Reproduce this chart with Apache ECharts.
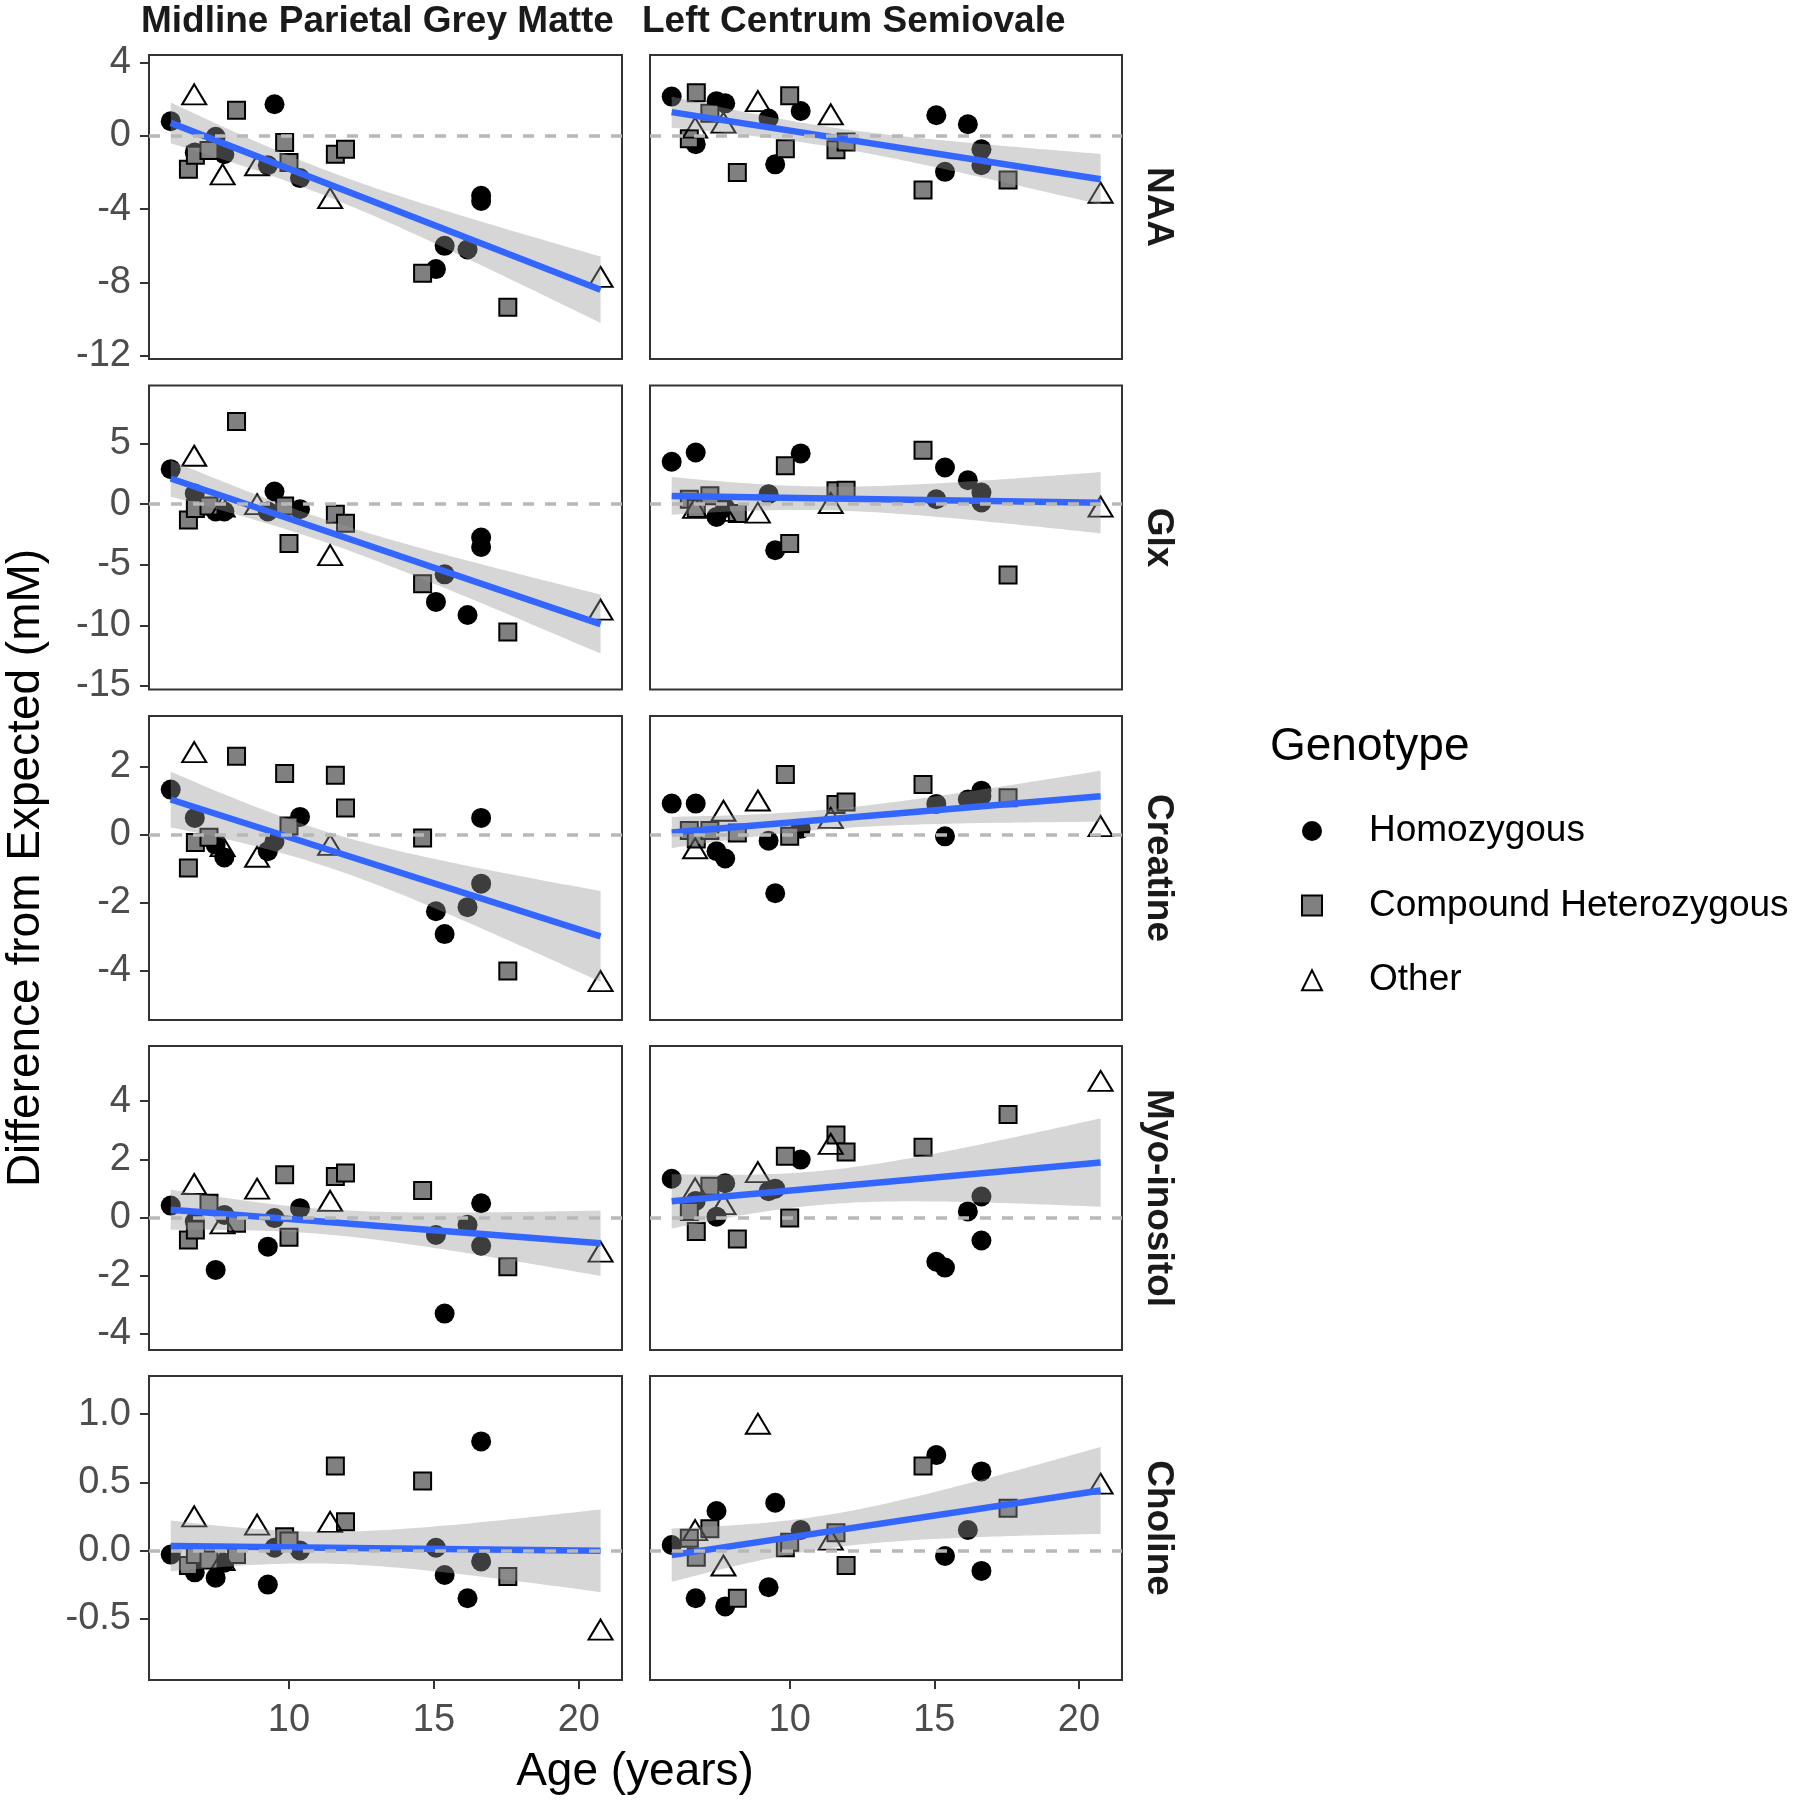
<!DOCTYPE html>
<html>
<head>
<meta charset="utf-8">
<script src="https://cdn.jsdelivr.net/npm/echarts@6/dist/echarts.min.js"></script>
<style>
  html, body { margin: 0; background: #fff; }
  #main { width: 1800px; height: 1802px; }
</style>
</head>
<body>
<div id="main"></div>
<script>
// subjects: age and genotype (same subjects in every panel)
const ages = [5.92, 6.53, 6.73, 6.75, 6.77, 7.24, 7.47, 7.71, 7.77, 8.19, 8.9, 9.27, 9.5, 9.85,
  10.0, 10.38, 11.42, 11.6, 11.95, 14.61, 15.07, 15.37, 16.16, 16.63, 16.63, 17.55, 20.75];
const genotypes = ["H", "C", "O", "H", "C", "C", "H", "O", "H", "C", "O", "H", "H", "C",
  "C", "H", "O", "C", "C", "C", "H", "H", "H", "H", "H", "C", "O"];
const genotypeNames = { H: "Homozygous", C: "Compound Heterozygous", O: "Other" };

const regions = ["Midline Parietal Grey Matter", "Left Centrum Semiovale"];
const metabolites = ["NAA", "Glx", "Creatine", "Myo-inositol", "Choline"];

// difference from expected (mM), midline parietal grey matter
const naaMpgm = [0.8, -1.82, 2.27, -0.9, -1.05, -0.8, -0.05, -2.1, -1.0, 1.4, -1.6, -1.6, 1.73, -0.36,
  -1.45, -2.3, -3.4, -1.0, -0.73, -7.5, -7.27, -6.0, -6.2, -3.27, -3.55, -9.36, -7.7];
const glxMpgm = [2.89, -1.3, 4.0, 0.88, -0.36, -0.14, -0.6, -0.2, -0.6, 6.83, 0.0, -0.6, 1.05, -0.14,
  -3.25, -0.41, -4.2, -0.83, -1.57, -6.56, -8.07, -5.79, -9.15, -2.75, -3.53, -10.55, -8.7];
const creMpgm = [1.32, -0.98, 2.42, 0.49, -0.23, -0.08, -0.3, -0.34, -0.67, 2.3, -0.65, -0.49, -0.2, 1.79,
  0.25, 0.52, -0.3, 1.74, 0.78, -0.1, -2.25, -2.92, -2.13, 0.49, -1.44, -4.0, -4.3];
const myoMpgm = [0.41, -0.77, 1.15, -0.14, -0.43, 0.49, -1.8, -0.2, 0.09, -0.2, 0.99, -1.0, -0.02, 1.47,
  -0.68, 0.32, 0.57, 1.41, 1.53, 0.93, -0.6, -3.3, -0.25, 0.49, -0.97, -1.69, -1.17];
const choMpgm = [-0.03, -0.11, 0.25, -0.16, -0.03, -0.07, -0.2, -0.07, -0.09, -0.03, 0.19, -0.25, 0.02, 0.1,
  0.07, 0.0, 0.21, 0.62, 0.21, 0.51, 0.02, -0.18, -0.35, 0.8, -0.08, -0.19, -0.58];

// difference from expected (mM), left centrum semiovale
const naaLcs = [2.15, -0.15, 0.45, -0.45, 2.36, 1.24, 1.9, 0.73, 1.78, -2.0, 1.9, 0.95, -1.55, -0.7,
  2.2, 1.36, 1.18, -0.76, -0.33, -2.95, 1.13, -1.96, 0.64, -0.73, -1.6, -2.4, -3.1];
const glxLcs = [3.5, 0.4, -0.3, 4.27, -0.36, 0.7, -1.05, -0.55, -0.3, -0.77, -0.7, 0.83, -3.8, 3.17,
  -3.25, 4.19, 0.1, 1.1, 1.16, 4.46, 0.41, 3.03, 1.98, 0.96, 0.14, -5.84, -0.2];
const creLcs = [0.91, 0.12, -0.4, 0.91, -0.13, 0.12, -0.49, 0.7, -0.7, 0.05, 1.0, -0.18, -1.72, 1.76,
  -0.05, 0.17, 0.49, 0.88, 0.96, 1.47, 0.9, -0.05, 1.03, 1.29, 1.13, 1.08, 0.25];
const myoLcs = [1.33, 0.21, 1.0, 0.57, -0.48, 1.07, 0.03, 0.46, 1.18, -0.74, 1.56, 0.9, 0.99, 2.1,
  -0.02, 1.99, 2.53, 2.83, 2.25, 2.41, -1.52, -1.72, 0.21, 0.72, -0.79, 3.54, 4.69];
const choLcs = [0.04, 0.09, 0.15, -0.35, -0.05, 0.16, 0.29, -0.11, -0.41, -0.35, 0.93, -0.27, 0.35, 0.02,
  0.06, 0.15, 0.08, 0.13, -0.11, 0.62, 0.7, -0.04, 0.15, 0.58, -0.15, 0.31, 0.49];

// axis ranges and tick labels per row
const yRanges = [[-12.18, 4.42], [-15.3, 9.8], [-5.44, 3.48], [-4.55, 5.89], [-0.95, 1.28]];
const yTicks = [[-12, -8, -4, 0, 4], [-15, -10, -5, 0, 5], [-4, -2, 0, 2], [-4, -2, 0, 2, 4], [-0.5, 0, 0.5, 1]];
const xRange = [5.17, 21.49];
const xTicks = [10, 15, 20];

const panelValues = [
  [naaMpgm, naaLcs],
  [glxMpgm, glxLcs],
  [creMpgm, creLcs],
  [myoMpgm, myoLcs],
  [choMpgm, choLcs],
];

const FONT = "'Liberation Sans', Arial, sans-serif";
const T975 = 2.0595; // t quantile, df = 25

// lm fit with 95% confidence band, like geom_smooth(method = "lm")
function linearFit(xs, ys) {
  const n = xs.length;
  const mx = xs.reduce((a, b) => a + b, 0) / n;
  const my = ys.reduce((a, b) => a + b, 0) / n;
  let sxx = 0, sxy = 0;
  xs.forEach((x, i) => {
    sxx += (x - mx) * (x - mx);
    sxy += (x - mx) * (ys[i] - my);
  });
  const slope = sxy / sxx;
  const icpt = my - slope * mx;
  let sse = 0;
  xs.forEach((x, i) => {
    const r = ys[i] - (icpt + slope * x);
    sse += r * r;
  });
  const s = Math.sqrt(sse / (n - 2));
  return {
    at: (x) => icpt + slope * x,
    se: (x) => s * Math.sqrt(1 / n + ((x - mx) * (x - mx)) / sxx),
  };
}

const colLeft = [149, 650];
const colWidth = [473, 472];
const rowTop = [55, 385.5, 716, 1046, 1376];
const rowHeight = 304;

const grids = [], xAxes = [], yAxes = [], series = [], graphics = [];
const xMinData = Math.min(...ages), xMaxData = Math.max(...ages);

const markerStyle = {
  H: { symbol: "circle", symbolSize: 20, itemStyle: { color: "#000", opacity: 1 } },
  C: { symbol: "rect", symbolSize: 17, itemStyle: { color: "#808080", borderColor: "#000", borderWidth: 2, opacity: 1 } },
  O: { symbol: "triangle", symbolSize: [24, 20], itemStyle: { color: "rgba(0,0,0,0)", borderColor: "#000", borderWidth: 2, opacity: 1 } },
};

for (let r = 0; r < 5; r++) {
  for (let c = 0; c < 2; c++) {
    const g = r * 2 + c;
    const vals = panelValues[r][c];
    grids.push({
      left: colLeft[c], top: rowTop[r], width: colWidth[c], height: rowHeight,
      show: true, borderColor: "#333", borderWidth: 2, backgroundColor: "#fff",
    });
    xAxes.push({
      type: "value", gridIndex: g, min: xRange[0], max: xRange[1], position: "bottom",
      axisLine: { show: false, onZero: false }, splitLine: { show: false },
      axisTick: { show: r === 4, length: 9, lineStyle: { color: "#333", width: 2 }, customValues: xTicks },
      axisLabel: { show: r === 4, customValues: xTicks, fontSize: 38, color: "#4d4d4d", fontFamily: FONT, margin: 22 },
    });
    yAxes.push({
      type: "value", gridIndex: g, min: yRanges[r][0], max: yRanges[r][1], position: "left",
      axisLine: { show: false, onZero: false }, splitLine: { show: false },
      axisTick: { show: c === 0, length: 9, lineStyle: { color: "#333", width: 2 }, customValues: yTicks[r] },
      axisLabel: {
        show: c === 0, customValues: yTicks[r], fontSize: 38, color: "#4d4d4d", fontFamily: FONT, margin: 18,
        formatter: (v) => (r === 4 ? v.toFixed(1) : String(v)),
      },
    });

    // dashed zero reference line
    series.push({
      type: "line", name: "zero", xAxisIndex: g, yAxisIndex: g, data: [], silent: true, z: 1,
      markLine: {
        silent: true, symbol: "none", animation: false, label: { show: false },
        lineStyle: { color: "#b8b8b8", width: 3.5, type: [11, 11] },
        data: [{ yAxis: 0 }],
      },
    });

    // points by genotype
    ["H", "C", "O"].forEach((key) => {
      const pts = [];
      ages.forEach((a, i) => {
        if (genotypes[i] === key) pts.push([a, vals[i]]);
      });
      series.push(Object.assign({
        type: "scatter", name: genotypeNames[key], xAxisIndex: g, yAxisIndex: g,
        data: pts, z: 2, silent: true,
      }, markerStyle[key]));
    });

    // confidence band, drawn over the points like ggplot
    const fit = linearFit(ages, vals);
    series.push({
      type: "custom", name: "band", xAxisIndex: g, yAxisIndex: g, z: 3, silent: true,
      data: [[xMinData, 0]],
      renderItem: (params, api) => {
        const steps = 80;
        const pts = [];
        for (let i = 0; i <= steps; i++) {
          const x = xMinData + ((xMaxData - xMinData) * i) / steps;
          pts.push(api.coord([x, fit.at(x) + T975 * fit.se(x)]));
        }
        for (let i = steps; i >= 0; i--) {
          const x = xMinData + ((xMaxData - xMinData) * i) / steps;
          pts.push(api.coord([x, fit.at(x) - T975 * fit.se(x)]));
        }
        return { type: "polygon", shape: { points: pts }, style: { fill: "rgba(153,153,153,0.4)" } };
      },
    });

    // fitted line
    series.push({
      type: "line", name: "fit", xAxisIndex: g, yAxisIndex: g, z: 4, silent: true,
      symbol: "none", lineStyle: { color: "#3366FF", width: 6.5 },
      data: [[xMinData, fit.at(xMinData)], [xMaxData, fit.at(xMaxData)]],
    });
  }
}

// strip labels
regions.forEach((name, c) => {
  graphics.push({
    type: "text", left: colLeft[c] - 8, top: 3,
    style: {
      text: name, font: "bold 37px " + FONT, fill: "#1a1a1a",
      width: colWidth[c] + 8, overflow: "truncate", ellipsis: "",
    },
  });
});
metabolites.forEach((name, r) => {
  graphics.push({
    type: "text", x: 1158, y: rowTop[r] + rowHeight / 2, rotation: -Math.PI / 2,
    style: { text: name, font: "bold 37px " + FONT, fill: "#1a1a1a", align: "center", verticalAlign: "middle" },
  });
});

// axis titles
graphics.push({
  type: "text", x: 635, y: 1772,
  style: { text: "Age (years)", font: "46px " + FONT, fill: "#000", align: "center", verticalAlign: "middle" },
});
graphics.push({
  type: "text", x: 26, y: 868, rotation: Math.PI / 2,
  style: { text: "Difference from Expected (mM)", font: "46px " + FONT, fill: "#000", align: "center", verticalAlign: "middle" },
});
graphics.push({
  type: "text", x: 1270, y: 747,
  style: { text: "Genotype", font: "46px " + FONT, fill: "#000", align: "left", verticalAlign: "middle" },
});

const chart = echarts.init(document.getElementById("main"));
chart.setOption({
  animation: false,
  backgroundColor: "#fff",
  grid: grids,
  xAxis: xAxes,
  yAxis: yAxes,
  legend: {
    orient: "vertical", left: 1296, top: 806, itemWidth: 20, itemHeight: 20, itemGap: 34.6,
    selectedMode: false,
    textStyle: { fontSize: 37, color: "#000", fontFamily: FONT, padding: [0, 0, 0, 42], lineHeight: 40 },
    data: [
      { name: "Homozygous", icon: "circle", itemStyle: { color: "#000", opacity: 1 } },
      { name: "Compound Heterozygous", icon: "rect", itemStyle: { color: "#808080", borderColor: "#000", borderWidth: 2, opacity: 1 } },
      { name: "Other", icon: "triangle", itemStyle: { color: "rgba(0,0,0,0)", borderColor: "#000", borderWidth: 2, opacity: 1 } },
    ],
  },
  graphic: graphics,
  series: series,
});
</script>
</body>
</html>
